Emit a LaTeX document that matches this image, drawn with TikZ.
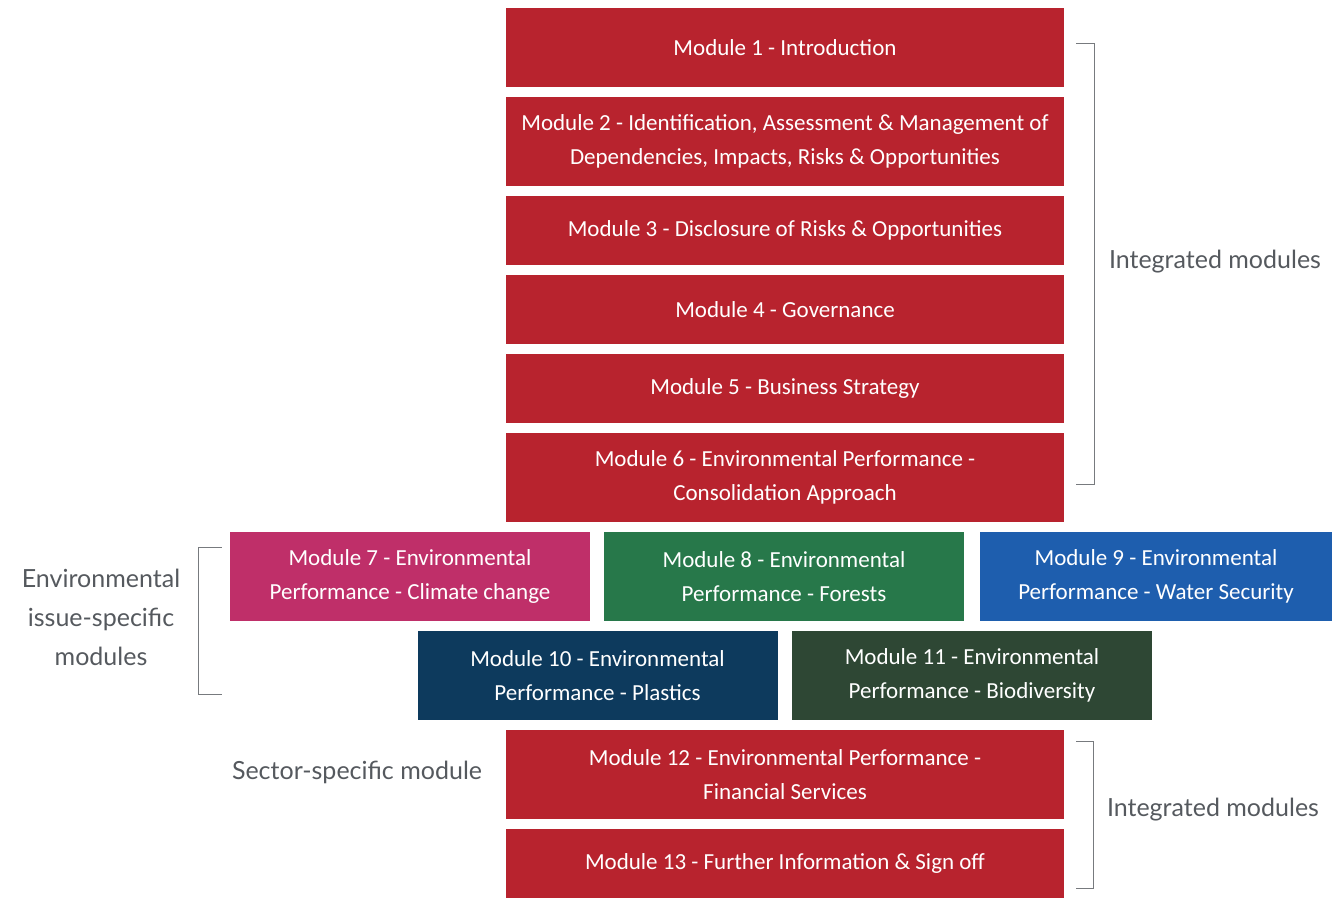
\documentclass[tikz,border=0pt]{standalone}
\usepackage{fontspec}
\setmainfont{Carlito}
\newfontfamily\labelfont{Lato}
\usepackage{xcolor}
\usetikzlibrary{calc}
\definecolor{modred}{HTML}{B8232E}
\definecolor{modpink}{HTML}{BF2F69}
\definecolor{modgreen}{HTML}{27784A}
\definecolor{modblue}{HTML}{1E5EAE}
\definecolor{modnavy}{HTML}{0D3A5D}
\definecolor{moddark}{HTML}{2E4734}
\definecolor{labelgrey}{HTML}{55595E}
\newcommand{\ModFont}{\fontsize{11.5}{17}\selectfont}
\newcommand{\SideFont}{\labelfont\fontsize{12.5}{19.5}\selectfont}

\tikzset{
  modbox/.style={fill=#1,text=white,inner sep=0pt,align=center,
    minimum width=279pt,font=\ModFont},
  issuebox/.style={modbox=#1,minimum width=180pt,minimum height=44.5pt},
  sidelabel/.style={text=labelgrey,font=\SideFont,align=center,inner sep=0pt},
  brack/.style={draw=labelgrey!80,line width=0.8pt}
}

\begin{document}
\begin{tikzpicture}[x=0.5pt,y=-0.5pt]
        \useasboundingbox (0,0) rectangle (1332,898);
        % integrated column
        \node[modbox=modred,minimum height=39.5pt] (m1) at (785,47.5) {Module 1 - Introduction};
        \node[modbox=modred,minimum height=44.5pt] (m2) at (785,141.5)
          {Module 2 - Identification, Assessment \& Management of\\Dependencies, Impacts, Risks \& Opportunities};
        \node[modbox=modred,minimum height=34.5pt] (m3) at (785,230.5) {Module 3 - Disclosure of Risks \& Opportunities};
        \node[modbox=modred,minimum height=34.5pt] (m4) at (785,309.5) {Module 4 - Governance};
        \node[modbox=modred,minimum height=34.5pt] (m5) at (785,388.5) {Module 5 - Business Strategy};
        \node[modbox=modred,minimum height=44.5pt] (m6) at (785,477.5)
          {Module 6 - Environmental Performance -\\Consolidation Approach};
        % issue-specific rows
        \node[issuebox=modpink] (m7) at (410,576.5) {Module 7 - Environmental\\Performance - Climate change};
        \node[issuebox=modgreen] (m8) at (784,576.5) {Module 8 - Environmental\\Performance - Forests};
        \node[issuebox=modblue,minimum width=176pt] (m9) at (1156,576.5) {Module 9 - Environmental\\Performance - Water Security};
        \node[issuebox=modnavy] (m10) at (597.5,675.5) {Module 10 - Environmental\\Performance - Plastics};
        \node[issuebox=moddark] (m11) at (972,675.5) {Module 11 - Environmental\\Performance - Biodiversity};
        % sector-specific and closing
        \node[modbox=modred,minimum height=44.5pt] (m12) at (785,774.5)
          {Module 12 - Environmental Performance -\\Financial Services};
        \node[modbox=modred,minimum height=34.5pt] (m13) at (785,863.5) {Module 13 - Further Information \& Sign off};

        % side labels
        \node[sidelabel] (integ) at (1215,262) {Integrated modules};
        \node[sidelabel] (integlow) at (1213,810) {Integrated modules};
        \node[sidelabel] (issue) at (101,617) {Environmental\\issue-specific\\modules};
        \node[sidelabel] (sector) at (357,772) {Sector-specific module};

        % brackets
        \draw[brack] ([xshift=6pt,yshift=-18pt]m1.north east) -- ++(9pt,0)
          |- ([xshift=6pt,yshift=19pt]m6.south east);
        \draw[brack] ([xshift=6pt,yshift=-6pt]m12.north east) -- ++(8.5pt,0)
          |- ([xshift=6pt,yshift=5pt]m13.south east);
        \draw[brack] ([xshift=-4pt,yshift=-8pt]m7.north west) -- ++(-11.5pt,0)
          |- ([xshift=-4pt,yshift=13pt]m7.north west |- m10.south);
      \end{tikzpicture}
\end{document}
